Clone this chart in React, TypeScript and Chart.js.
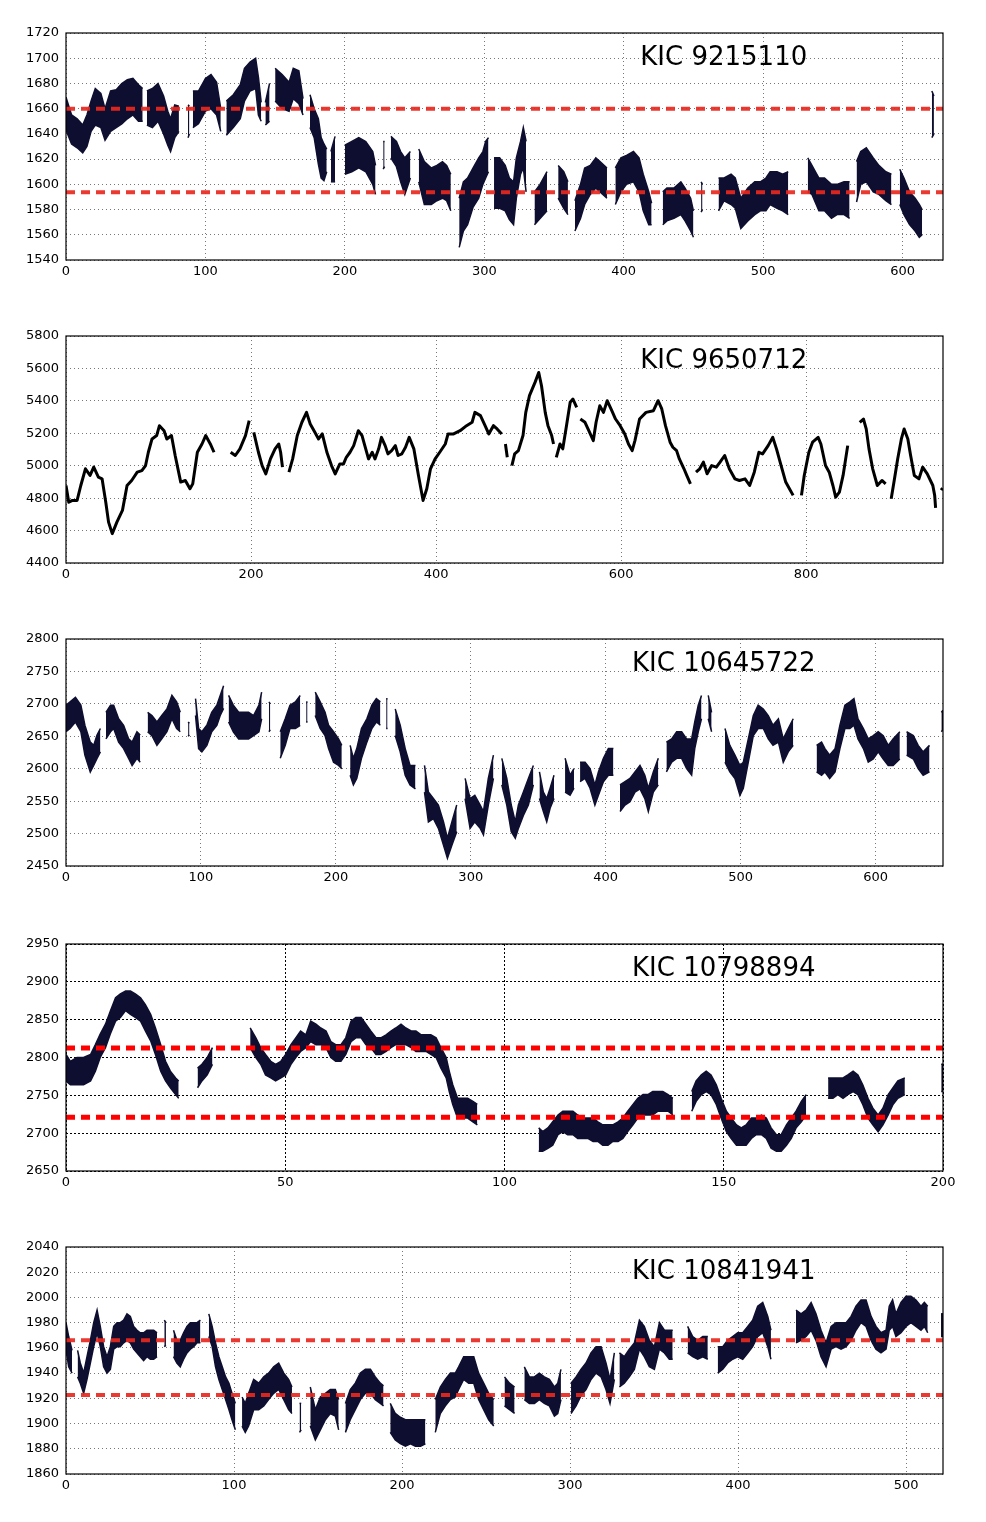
import React, { useEffect, useRef } from 'react';
import { Chart, registerables } from 'chart.js';

Chart.register(...registerables);

// ---- KIC 9215110 (band: lower / upper edge of the scatter) ----
const P1_X = [
  0, 4, 8, 12, 15, 18, 21, 25, 28, 32,
  36, 40, 44, 48, 52, 55, 56, 58, 62, 66,
  70, 73, 75, 78, 81, 84, 87.5, 88.5, 89, 91,
  95, 100, 104, 108, 111, 113, 115, 120, 125, 128,
  132, 136, 138, 140, 141, 143, 146, 148, 150, 155,
  160, 163, 167, 170, 172, 175, 178, 181, 183, 185,
  187, 189, 190, 193, 195, 200, 205, 210, 215, 220,
  222, 225, 227.5, 228.5, 230, 233, 237, 240, 243, 247,
  250, 253, 257, 262, 266, 270, 273, 276, 279, 282,
  285, 288, 292, 296, 299, 301, 303, 305, 307, 311,
  315, 318, 321, 323, 326, 328, 330, 332, 336, 340,
  345, 348, 353, 357, 360, 362, 365, 369, 372, 376,
  380, 383, 388, 391, 394, 398, 402, 407, 411, 414,
  418, 420, 424, 428, 431, 436, 441, 444, 448, 450,
  453, 455.5, 456.5, 458, 468, 472, 477, 480, 484, 489,
  494, 498, 502, 505, 510, 514, 518, 522, 532, 535,
  540, 544, 549, 553, 558, 562, 564, 567, 570, 574,
  579, 583, 588, 592, 595, 598, 601, 605, 609, 612,
  614, 617, 621, 622.5,
];
const P1_LO = [
  1643, 1632, 1629, 1625, 1630, 1642, 1647, 1645, 1635, 1642,
  1645, 1648, 1652, 1655, 1650, 1650, null, 1647, 1645, 1650,
  1640, 1631, 1626, 1637, 1642, null, 1637, 1640, null, 1645,
  1648, 1658, 1660, 1655, 1642, null, 1639, 1645, 1652, 1666,
  1674, 1676, 1655, 1650, null, 1647, 1650, null, 1666, 1660,
  1658, 1668, 1664, 1655, null, 1645, 1637, 1616, 1605, 1603,
  1610, null, 1602, 1602, null, 1608, 1610, 1613, 1610, 1600,
  1592, null, 1612, 1614, null, 1621, 1614, 1602, 1592, 1605,
  null, 1602, 1584, 1584, 1587, 1589, 1587, 1579, null, 1550,
  1563, 1568, 1582, 1589, 1600, 1605, 1610, null, 1581, 1581,
  1579, 1572, 1568, 1589, 1608, 1613, 1594, null, 1568, 1573,
  1579, null, 1589, 1581, 1576, null, 1563, 1573, 1584, 1592,
  1597, 1594, 1589, null, 1584, 1594, 1600, 1602, 1594, 1579,
  1568, 1568, null, 1568, 1571, 1573, 1576, 1571, 1563, 1558,
  null, 1578, 1580, null, 1579, 1587, 1584, 1581, 1565, 1571,
  1576, 1579, 1579, 1584, 1581, 1579, 1576, null, 1594, 1592,
  1579, 1579, 1573, 1576, 1576, 1573, null, 1586, 1600, 1602,
  1594, 1592, 1587, 1584, null, 1584, 1576, 1568, 1563, 1558,
  1560, null, 1637, 1640,
];
const P1_HI = [
  1669, 1655, 1652, 1647, 1655, 1666, 1676, 1672, 1660, 1674,
  1675, 1680, 1683, 1684, 1679, 1676, null, 1674, 1676, 1680,
  1670, 1658, 1652, 1663, 1662, null, 1663, 1662, null, 1674,
  1674, 1684, 1687, 1681, 1660, null, 1666, 1671, 1679, 1692,
  1697, 1700, 1685, 1665, null, 1665, 1680, null, 1692, 1687,
  1681, 1692, 1690, 1668, null, 1671, 1660, 1652, 1637, 1632,
  1628, null, 1626, 1638, null, 1631, 1634, 1637, 1634, 1626,
  1615, null, 1634, 1634, null, 1638, 1634, 1626, 1621, 1626,
  null, 1628, 1618, 1613, 1615, 1618, 1615, 1608, null, 1589,
  1602, 1605, 1613, 1621, 1626, 1634, 1637, null, 1621, 1621,
  1615, 1605, 1602, 1621, 1634, 1645, 1634, null, 1594, 1600,
  1610, null, 1615, 1610, 1602, null, 1587, 1600, 1613, 1615,
  1621, 1618, 1613, null, 1613, 1621, 1623, 1626, 1621, 1608,
  1594, 1585, null, 1594, 1597, 1597, 1602, 1597, 1589, 1579,
  null, 1602, 1600, null, 1605, 1605, 1608, 1605, 1589, 1597,
  1602, 1602, 1605, 1610, 1610, 1608, 1610, null, 1621, 1615,
  1605, 1605, 1600, 1600, 1602, 1602, null, 1618, 1626, 1629,
  1621, 1615, 1610, 1608, null, 1612, 1605, 1594, 1589, 1584,
  1580, null, 1674, 1670,
];
const P1_LEVELS = [1660, 1593.7];

// ---- KIC 9650712 (single trace) ----
const P2_X = [
  0, 3, 7, 12, 16, 21, 26, 30, 35, 39,
  43, 46, 50, 55, 61, 66, 71, 77, 82, 86,
  89, 93, 98, 101, 106, 109, 114, 118, 124, 129,
  134, 137, 142, 147, 151, 156, 160, 168, 178, 183,
  188, 194, 198, 200, 203, 208, 212, 216, 221, 226,
  230, 232, 234, 237, 241, 245, 250, 255, 260, 264,
  269, 273, 277, 282, 287, 291, 296, 300, 303, 307,
  311, 316, 320, 323, 327, 331, 334, 338, 341, 345,
  348, 352, 356, 359, 363, 367, 371, 376, 381, 386,
  390, 394, 399, 404, 410, 413, 419, 426, 433, 439,
  442, 448, 453, 457, 462, 466, 471, 473, 475, 477,
  479, 482, 485, 489, 494, 497, 501, 507, 511, 514,
  518, 521, 525, 527, 528, 530, 534, 537, 541, 545,
  548, 552, 554, 556, 561, 566, 570, 573, 577, 581,
  585, 590, 594, 599, 604, 608, 612, 615, 620, 627,
  635, 640, 644, 648, 653, 656, 660, 663, 668, 671,
  675, 678, 681, 685, 689, 693, 698, 703, 707, 712,
  717, 723, 728, 734, 739, 744, 749, 753, 759, 764,
  768, 773, 778, 782, 786, 790, 795, 798, 803, 807,
  813, 816, 821, 825, 829, 832, 836, 840, 845, 850,
  858, 862, 865, 868, 872, 877, 882, 886, 889, 892,
  895, 899, 903, 906, 910, 913, 917, 922, 926, 931,
  937, 939, 940, 942, 946, 947.5,
];
const P2_Y = [
  4878, 4775, 4786, 4786, 4878, 4981, 4940, 4991, 4929, 4919,
  4775, 4652, 4581, 4652, 4724, 4878, 4909, 4960, 4970, 5001,
  5083, 5165, 5186, 5247, 5216, 5165, 5186, 5063, 4899, 4909,
  4858, 4888, 5083, 5134, 5186, 5134, 5083, null, 5083, 5063,
  5104, 5186, 5278, null, 5206, 5083, 5001, 4950, 5042, 5104,
  5134, 5083, 4991, null, 4960, 5042, 5186, 5268, 5329, 5257,
  5206, 5165, 5196, 5083, 5001, 4950, 5011, 5011, 5052, 5083,
  5124, 5216, 5186, 5124, 5042, 5083, 5042, 5104, 5175, 5124,
  5073, 5093, 5124, 5063, 5073, 5114, 5175, 5104, 4940, 4786,
  4858, 4981, 5042, 5083, 5134, 5196, 5196, 5216, 5247, 5268,
  5329, 5309, 5247, 5196, 5247, 5227, 5196, null, 5134, 5052,
  null, 5001, 5073, 5093, 5186, 5329, 5432, 5514, 5575, 5493,
  5329, 5247, 5186, 5134, null, 5052, 5134, 5104, 5247, 5391,
  5411, 5360, null, 5288, 5268, 5206, 5155, 5268, 5370, 5329,
  5401, 5339, 5288, 5247, 5196, 5134, 5093, 5155, 5288, 5329,
  5339, 5401, 5350, 5247, 5145, 5114, 5093, 5042, 4981, 4940,
  4888, null, 4960, 4981, 5022, 4950, 5001, 4991, 5022, 5063,
  4981, 4919, 4909, 4919, 4878, 4960, 5083, 5073, 5124, 5175,
  5104, 5001, 4899, 4858, 4817, null, 4817, 4940, 5083, 5145,
  5175, 5134, 5001, 4960, 4878, 4806, 4837, 4940, 5124, null,
  5268, 5288, 5227, 5104, 4981, 4878, 4909, 4888, null, 4796,
  4899, 5042, 5165, 5227, 5165, 5063, 4940, 4919, 4991, 4950,
  4878, 4817, 4740, null, 4850, 4862,
];

// ---- KIC 10645722 ----
const P3_X = [
  0, 3, 7, 11, 14, 18, 20.5, 23, 25.5, 27,
  29.6, 33, 35.3, 39, 42.7, 46.4, 49, 52.6, 55, 57,
  60.5, 63.7, 67.4, 71, 74.8, 78.5, 82, 84.7, 87, 90.5,
  91.5, 93, 96, 98.3, 100.7, 104.4, 108, 111.8, 114.3, 116.8,
  118.5, 120.5, 124, 128, 131.6, 135.3, 139, 143, 145, 147,
  150.4, 151.4, 153, 158.8, 162.5, 166, 170, 173.6, 176, 178,
  179, 180, 184.7, 188.4, 192, 194.6, 198.3, 202, 204.4, 207,
  210.6, 213, 215.5, 219, 223, 226.7, 230, 233, 235, 237.3,
  238.3, 240, 244, 247.7, 251.4, 255, 259, 262, 265.7, 268.6,
  272.3, 276, 279.8, 282.7, 286, 289.6, 292, 295.8, 299.5, 303,
  307, 309.4, 313, 316.8, 320, 323, 326.7, 330, 333, 335.3,
  339, 342.7, 346.4, 348.5, 350.9, 353.8, 356.3, 358.8, 361.7, 365,
  369.9, 373.6, 376.5, 378.5, 381, 384.7, 388.4, 392, 394.6, 398.3,
  402, 405.7, 408, 410.6, 414.3, 418, 421.7, 425.4, 429, 431.6,
  435.3, 439, 442, 445, 448.9, 452.6, 456.3, 460, 463.7, 466,
  468.6, 471, 473.5, 476, 478.5, 482, 488.4, 492, 495.8, 499.5,
  502, 505.7, 509.4, 513, 516.8, 520.5, 524, 528, 531.6, 535.3,
  539, 545, 556.3, 560, 562.5, 566, 570, 573.6, 577.3, 581,
  584, 587, 591, 594.6, 598.3, 602, 605.7, 609.4, 613, 618,
  620.5, 623, 628, 631.6, 635.3, 640, 644, 648.8, 650,
];
const P3_LO = [
  2657, 2662, 2672, 2657, 2621, 2595, 2605, 2616, 2626, null,
  2646, 2657, 2662, 2641, 2631, 2616, 2605, 2616, 2610, null,
  2657, 2651, 2636, 2646, 2657, 2677, 2662, 2657, null, 2650,
  2652, null, 2682, 2631, 2626, 2636, 2657, 2667, 2682, 2693,
  null, 2672, 2657, 2646, 2646, 2646, 2651, 2657, 2677, null,
  2657, 2660, null, 2616, 2636, 2662, 2662, 2667, null, 2672,
  2672, null, 2682, 2662, 2651, 2631, 2610, 2605, 2600, null,
  2590, 2575, 2585, 2616, 2641, 2662, 2672, 2667, null, 2662,
  2662, null, 2651, 2626, 2590, 2575, 2569, null, 2564, 2518,
  2523, 2508, 2482, 2462, 2482, 2503, null, 2554, 2508, 2518,
  2508, 2498, 2544, 2585, null, 2575, 2544, 2503, 2493, 2508,
  2528, 2544, 2575, null, 2554, 2534, 2518, 2539, 2554, null,
  2564, 2559, 2570, null, 2580, 2585, 2570, 2544, 2559, 2580,
  2590, 2590, null, 2534, 2544, 2549, 2564, 2569, 2554, 2534,
  2564, 2575, null, 2595, 2610, 2616, 2616, 2600, 2590, 2631,
  2657, 2677, null, 2677, 2657, null, 2610, 2595, 2585, 2559,
  2570, 2610, 2651, 2662, 2662, 2646, 2636, 2641, 2610, 2626,
  2636, null, 2595, 2590, 2595, 2585, 2595, 2631, 2662, 2662,
  2667, 2646, 2631, 2610, 2615, 2626, 2615, 2605, 2605, 2615,
  null, 2621, 2615, 2600, 2590, 2595, null, 2657, 2660,
];
const P3_HI = [
  2698, 2703, 2710, 2698, 2667, 2641, 2636, 2652, 2662, null,
  2687, 2698, 2698, 2677, 2667, 2646, 2641, 2657, 2652, null,
  2687, 2682, 2672, 2682, 2692, 2713, 2703, 2687, null, 2672,
  2670, null, 2708, 2662, 2657, 2667, 2687, 2698, 2713, 2728,
  null, 2713, 2698, 2687, 2687, 2687, 2682, 2698, 2718, null,
  2703, 2700, null, 2657, 2677, 2698, 2703, 2713, null, 2703,
  2703, null, 2718, 2703, 2687, 2667, 2657, 2646, 2636, null,
  2636, 2616, 2631, 2662, 2677, 2698, 2708, 2703, null, 2708,
  2708, null, 2692, 2667, 2631, 2605, 2605, null, 2605, 2564,
  2554, 2544, 2518, 2493, 2518, 2544, null, 2585, 2554, 2559,
  2544, 2534, 2585, 2621, null, 2616, 2585, 2544, 2518, 2544,
  2564, 2585, 2605, null, 2595, 2564, 2554, 2570, 2590, null,
  2616, 2590, 2600, null, 2610, 2610, 2600, 2575, 2595, 2616,
  2631, 2631, null, 2575, 2580, 2585, 2595, 2605, 2590, 2570,
  2595, 2616, null, 2641, 2646, 2657, 2657, 2646, 2646, 2672,
  2698, 2713, null, 2713, 2687, null, 2662, 2636, 2621, 2605,
  2610, 2646, 2682, 2698, 2692, 2682, 2667, 2677, 2646, 2662,
  2677, null, 2636, 2641, 2631, 2621, 2631, 2667, 2698, 2703,
  2708, 2677, 2662, 2646, 2651, 2657, 2651, 2636, 2646, 2657,
  null, 2657, 2651, 2636, 2626, 2636, null, 2687, 2690,
];

// ---- KIC 10798894 ----
const P4_X = [
  0, 1, 2.5, 4, 5.6, 6.7, 7.8, 9, 10.1, 11.3,
  12.4, 13.6, 14.7, 15.8, 17, 18.1, 19.3, 20.4, 21.6, 22.7,
  23.8, 25, 25.7, 28, 30, 31, 32.2, 33.4, 37, 42,
  43.3, 44.4, 45.5, 46.7, 47.8, 49, 50.1, 51.3, 52.4, 53.5,
  54.7, 55.8, 57, 58.1, 59.3, 60.4, 61.5, 62.7, 63.8, 65,
  66.1, 67.3, 68.4, 69.5, 70.7, 71.8, 73, 74.1, 75.2, 76.4,
  77.5, 78.7, 79.8, 81, 82.1, 83.2, 84.4, 85.5, 86.7, 87.4,
  88.2, 89.3, 90.5, 91.6, 92.8, 93.8, 100, 107.8, 108.7, 109.9,
  111, 112.2, 113.3, 114.4, 115.6, 116.7, 117.9, 119, 120.2, 121.3,
  122.4, 123.6, 124.7, 125.9, 127, 128.1, 129.3, 130.4, 131.6, 132.7,
  133.8, 135, 136.1, 137.3, 138.4, 140.5, 142.7, 143.7, 144.9, 146,
  147.1, 148.3, 149.4, 150.6, 151.7, 152.9, 154, 155.1, 156.3, 157.4,
  158.6, 159.7, 160.8, 162, 163.1, 164.3, 165.4, 166.5, 167.7, 168.8,
  171, 173.8, 174.9, 176, 177.2, 178.3, 179.5, 180.6, 181.7, 182.9,
  184, 185.2, 186.3, 187.5, 188.6, 189.7, 191.3, 195, 199.6, 200.3,
];
const P4_LO = [
  2769, 2764, 2764, 2764, 2769, 2782, 2800, 2813, 2831, 2848,
  2853, 2862, 2857, 2853, 2848, 2835, 2822, 2804, 2782, 2769,
  2760, 2751, 2746, null, 2760, 2769, 2777, 2791, null, 2813,
  2800, 2791, 2777, 2773, 2769, 2773, 2777, 2791, 2800, 2808,
  2813, 2821, 2817, 2817, 2813, 2800, 2795, 2795, 2804, 2821,
  2826, 2826, 2817, 2813, 2804, 2804, 2808, 2813, 2817, 2817,
  2817, 2813, 2808, 2808, 2808, 2804, 2800, 2786, 2773, 2755,
  2738, 2720, 2720, 2720, 2715, 2711, null, 2676, 2676, 2680,
  2684, 2698, 2702, 2698, 2698, 2693, 2693, 2693, 2689, 2689,
  2684, 2684, 2689, 2689, 2693, 2702, 2711, 2720, 2724, 2724,
  2724, 2729, 2729, 2729, 2724, null, 2729, 2742, 2751, 2755,
  2751, 2738, 2720, 2702, 2693, 2684, 2684, 2684, 2693, 2698,
  2698, 2693, 2680, 2676, 2676, 2684, 2693, 2707, 2715, 2724,
  null, 2746, 2746, 2751, 2746, 2751, 2755, 2751, 2738, 2720,
  2711, 2702, 2711, 2724, 2738, 2746, 2751, null, 2755, 2755,
];
const P4_HI = [
  2804, 2795, 2800, 2800, 2804, 2817, 2831, 2844, 2861, 2879,
  2884, 2888, 2888, 2884, 2879, 2870, 2857, 2839, 2817, 2795,
  2782, 2773, 2769, null, 2786, 2791, 2800, 2813, null, 2839,
  2826, 2813, 2804, 2795, 2791, 2795, 2804, 2817, 2826, 2835,
  2830, 2848, 2844, 2839, 2835, 2821, 2817, 2817, 2826, 2848,
  2853, 2853, 2844, 2835, 2826, 2826, 2830, 2835, 2839, 2844,
  2839, 2835, 2835, 2830, 2830, 2830, 2826, 2813, 2800, 2782,
  2764, 2746, 2746, 2746, 2742, 2738, null, 2707, 2702, 2707,
  2715, 2724, 2729, 2729, 2729, 2724, 2720, 2720, 2720, 2715,
  2711, 2711, 2711, 2715, 2720, 2729, 2738, 2746, 2751, 2751,
  2755, 2755, 2755, 2751, 2746, null, 2755, 2769, 2777, 2782,
  2777, 2764, 2746, 2729, 2720, 2711, 2707, 2711, 2720, 2720,
  2724, 2720, 2707, 2698, 2698, 2711, 2720, 2729, 2742, 2751,
  null, 2773, 2773, 2773, 2773, 2777, 2782, 2777, 2764, 2746,
  2733, 2724, 2733, 2751, 2760, 2769, 2773, null, 2791, 2791,
];
const P4_LEVELS = [2812.5, 2721];

// ---- KIC 10841941 ----
const P5_X = [
  0, 1.6, 3.6, 5, 6.9, 8.5, 10.5, 12.5, 14.5, 16.5,
  18.5, 20.4, 22.4, 24.4, 26.4, 28.4, 30.4, 32.3, 34.3, 36.3,
  38.3, 40.3, 42.3, 44.2, 46.2, 48.2, 50.2, 52.2, 54.2, 56.5,
  58.5, 59.5, 61.5, 64, 66, 68, 70, 72, 74, 76,
  78, 80, 82.5, 85, 87, 89, 91, 93, 95, 97,
  98.8, 100.8, 103, 104.8, 106.7, 108.7, 111.7, 114.7, 117.7, 120.6,
  123.6, 126.6, 129.6, 132.5, 134.5, 137, 139, 140, 142, 145.4,
  148.4, 151.4, 154.4, 157.3, 160.3, 162.3, 164, 166.3, 169.2, 172.2,
  175.2, 178.2, 181.2, 184.1, 187.1, 189, 191, 193, 196, 199,
  202, 205, 208, 211, 213.9, 217, 219.8, 222.8, 225.8, 228.8,
  231.7, 233.7, 236.7, 239.7, 242.7, 245.6, 248.6, 251.6, 254.6, 258,
  261, 264, 267, 270, 272.8, 275.8, 278.8, 281.7, 284.7, 287.7,
  290.7, 292.7, 294.6, 297.5, 300.6, 303.6, 306.5, 309.5, 312.5, 315.5,
  318.5, 321.4, 323.8, 326.4, 328, 329.4, 332.3, 335.3, 338.3, 341.3,
  344.2, 347.2, 350.2, 353.2, 356.2, 359.1, 361.1, 365, 370, 373,
  376, 379, 382, 385, 387.9, 390.9, 393.8, 396.8, 399.8, 402.8,
  405.8, 408.7, 411.7, 414.7, 417.7, 419.6, 425, 434.5, 437.5, 440.5,
  443.5, 446.4, 449.4, 452.4, 455.4, 458.3, 461.3, 464.3, 467.3, 470.2,
  473.2, 476.2, 479.2, 482.1, 485.1, 488.1, 490, 492, 494, 497,
  500, 502.9, 505.9, 508.9, 510.9, 512.9, 517, 520.8, 522,
];
const P5_LO = [
  1959, 1945, 1940, null, 1937, 1932, 1924, 1935, 1948, 1961,
  1972, 1961, 1945, 1940, 1943, 1959, 1961, 1961, 1964, 1966,
  1964, 1959, 1956, 1953, 1950, 1953, 1951, 1951, 1953, null,
  1961, 1962, null, 1953, 1948, 1945, 1951, 1956, 1959, 1961,
  1964, 1964, null, 1969, 1961, 1945, 1935, 1927, 1919, 1911,
  1903, 1895, null, 1898, 1893, 1898, 1911, 1911, 1914, 1919,
  1924, 1927, 1919, 1911, 1908, null, 1893, 1895, null, 1898,
  1887, 1895, 1903, 1908, 1906, 1895, null, 1893, 1903, 1911,
  1919, 1924, 1924, 1919, 1916, 1914, null, 1893, 1887, 1884,
  1882, 1884, 1882, 1882, 1884, null, 1893, 1908, 1914, 1919,
  1921, 1927, 1935, 1932, 1932, 1919, 1911, 1903, 1898, null,
  1914, 1911, 1908, null, 1919, 1916, 1916, 1919, 1916, 1914,
  1906, 1908, 1919, null, 1908, 1914, 1922, 1927, 1935, 1940,
  1937, 1927, 1916, 1935, null, 1929, 1932, 1937, 1943, 1959,
  1953, 1945, 1943, 1959, 1956, 1951, 1951, null, 1956, 1953,
  1951, 1953, 1951, null, 1940, 1943, 1948, 1951, 1953, 1951,
  1956, 1961, 1969, 1972, 1961, 1951, null, 1964, 1966, 1969,
  1974, 1966, 1953, 1945, 1959, 1961, 1959, 1961, 1966, 1974,
  1980, 1977, 1966, 1959, 1956, 1959, 1974, 1977, 1969, 1972,
  1977, 1980, 1977, 1974, 1977, 1972, null, 1969, 1969,
];
const P5_HI = [
  1980, 1969, 1958, null, 1958, 1948, 1940, 1953, 1966, 1980,
  1990, 1977, 1961, 1953, 1961, 1977, 1980, 1980, 1982, 1987,
  1985, 1977, 1974, 1972, 1972, 1974, 1974, 1974, 1972, null,
  1982, 1980, null, 1974, 1966, 1966, 1972, 1977, 1980, 1980,
  1980, 1982, null, 1987, 1977, 1964, 1953, 1945, 1937, 1932,
  1924, 1916, null, 1921, 1916, 1924, 1935, 1932, 1937, 1940,
  1945, 1948, 1940, 1935, 1929, null, 1916, 1916, null, 1929,
  1911, 1921, 1924, 1927, 1927, 1919, null, 1916, 1927, 1932,
  1940, 1943, 1943, 1937, 1932, 1930, null, 1916, 1908, 1905,
  1903, 1903, 1903, 1903, 1903, null, 1919, 1929, 1935, 1940,
  1940, 1945, 1953, 1953, 1953, 1940, 1932, 1924, 1919, null,
  1937, 1932, 1929, null, 1945, 1937, 1937, 1940, 1937, 1935,
  1929, 1932, 1943, null, 1932, 1937, 1943, 1948, 1956, 1961,
  1961, 1948, 1935, 1956, null, 1956, 1953, 1959, 1964, 1982,
  1977, 1966, 1961, 1980, 1974, 1974, 1974, null, 1977, 1969,
  1966, 1969, 1969, null, 1961, 1961, 1966, 1969, 1972, 1972,
  1977, 1982, 1993, 1996, 1985, 1974, null, 1990, 1987, 1990,
  1996, 1987, 1974, 1964, 1977, 1980, 1980, 1980, 1985, 1993,
  1998, 1998, 1985, 1977, 1972, 1974, 1993, 1998, 1987, 1996,
  2001, 2001, 1998, 1993, 1996, 1993, null, 1987, 1987,
];
const P5_LEVELS = [1966, 1922.6];

const BAND = '#0e0e30';
const FONT = 'DejaVu Sans';

type PanelCfg = {
  title: string;
  top: number;
  x: number[];
  lo?: (number | null)[];
  hi?: (number | null)[];
  y?: (number | null)[];
  levels: number[];
  levelColor: string;
  levelWidth: number;
  xMax: number;
  xStep: number;
  yMin: number;
  yMax: number;
  yStep: number;
  gridColor: string;
  gridDash: number[];
};

const PANELS: PanelCfg[] = [
  { title: 'KIC 9215110', top: 33, x: P1_X, lo: P1_LO, hi: P1_HI, levels: P1_LEVELS, levelColor: 'rgba(232,40,30,0.92)', levelWidth: 4, xMax: 629, xStep: 100, yMin: 1540, yMax: 1720, yStep: 20, gridColor: '#777', gridDash: [1, 3] },
  { title: 'KIC 9650712', top: 336, x: P2_X, y: P2_Y, levels: [], levelColor: '#f00', levelWidth: 4, xMax: 948, xStep: 200, yMin: 4400, yMax: 5800, yStep: 200, gridColor: '#777', gridDash: [1, 3] },
  { title: 'KIC 10645722', top: 639, x: P3_X, lo: P3_LO, hi: P3_HI, levels: [], levelColor: '#f00', levelWidth: 4, xMax: 650, xStep: 100, yMin: 2450, yMax: 2800, yStep: 50, gridColor: '#777', gridDash: [1, 3] },
  { title: 'KIC 10798894', top: 944, x: P4_X, lo: P4_LO, hi: P4_HI, levels: P4_LEVELS, levelColor: '#ff0000', levelWidth: 5, xMax: 200, xStep: 50, yMin: 2650, yMax: 2950, yStep: 50, gridColor: '#000', gridDash: [2, 2] },
  { title: 'KIC 10841941', top: 1247, x: P5_X, lo: P5_LO, hi: P5_HI, levels: P5_LEVELS, levelColor: 'rgba(232,40,30,0.92)', levelWidth: 4, xMax: 522, xStep: 100, yMin: 1860, yMax: 2040, yStep: 20, gridColor: '#777', gridDash: [1, 3] },
];

const PAD_TOP = 15;
const AXIS_H = 30;
const PLOT_H = 227;

// contiguous runs of indices where both band edges are known
function runs(lo: (number | null)[], hi: (number | null)[]): number[][] {
  const out: number[][] = [];
  let cur: number[] = [];
  lo.forEach((v, i) => {
    if (v == null || hi[i] == null) {
      if (cur.length) out.push(cur);
      cur = [];
    } else {
      cur.push(i);
    }
  });
  if (cur.length) out.push(cur);
  return out;
}

const Panel: React.FC<{ cfg: PanelCfg }> = ({ cfg }) => {
  const canvasRef = useRef<HTMLCanvasElement>(null);

  useEffect(() => {
    if (!canvasRef.current) return;
    const ctx = canvasRef.current.getContext('2d');
    if (!ctx) return;

    const datasets: any[] = [];
    if (cfg.lo && cfg.hi) {
      runs(cfg.lo, cfg.hi).forEach((idx) => {
        datasets.push({
          data: idx.map((i) => ({ x: cfg.x[i], y: cfg.lo![i] })),
          borderColor: BAND, backgroundColor: BAND, borderWidth: 1.5,
          pointRadius: 0, fill: false, order: 2,
        });
        datasets.push({
          data: idx.map((i) => ({ x: cfg.x[i], y: cfg.hi![i] })),
          borderColor: BAND, backgroundColor: BAND, borderWidth: 1.5,
          pointRadius: 0, fill: '-1', order: 2,
        });
      });
    } else if (cfg.y) {
      datasets.push({
        data: cfg.x.map((x, i) => ({ x, y: cfg.y![i] })),
        borderColor: '#000', borderWidth: 3, pointRadius: 0,
        fill: false, order: 2, borderJoinStyle: 'round',
      });
    }
    cfg.levels.forEach((v) => {
      datasets.push({
        data: [{ x: 0, y: v }, { x: cfg.xMax, y: v }],
        borderColor: cfg.levelColor, borderWidth: cfg.levelWidth, borderDash: [9, 6],
        pointRadius: 0, fill: false, order: 0,
      });
    });

    const tickFont = { family: FONT, size: 13 };

    const chart = new Chart(ctx, {
      type: 'line',
      data: { datasets },
      options: {
        animation: false,
        responsive: false,
        devicePixelRatio: 1,
        spanGaps: false,
        layout: { padding: { top: PAD_TOP, right: 43, left: 0, bottom: 0 } },
        plugins: { legend: { display: false }, tooltip: { enabled: false } },
        elements: { line: { tension: 0 } },
        scales: {
          x: {
            type: 'linear',
            min: 0,
            max: cfg.xMax,
            ticks: {
              stepSize: cfg.xStep, includeBounds: false, color: '#000',
              font: tickFont, padding: 4, maxRotation: 0, autoSkip: false,
              callback: (v: any) => String(v),
            },
            grid: { color: cfg.gridColor, lineWidth: 1, drawTicks: false },
            border: { display: false, dash: cfg.gridDash },
            afterFit: (s: any) => { s.height = AXIS_H; },
          },
          y: {
            type: 'linear',
            min: cfg.yMin,
            max: cfg.yMax,
            ticks: {
              stepSize: cfg.yStep, color: '#000', font: tickFont,
              padding: 7, autoSkip: false,
              callback: (v: any) => String(v),
            },
            grid: { color: cfg.gridColor, lineWidth: 1, drawTicks: false },
            border: { display: false, dash: cfg.gridDash },
            afterFit: (s: any) => { s.width = 66; },
          },
        },
      },
      plugins: [
        {
          id: 'frameAndTitle',
          afterDraw: (c: any) => {
            const a = c.chartArea;
            const g = c.ctx;
            g.save();
            g.strokeStyle = '#000';
            g.lineWidth = 1.2;
            g.strokeRect(a.left, a.top, a.right - a.left, a.bottom - a.top);
            g.fillStyle = '#000';
            g.font = `26px "${FONT}"`;
            g.textAlign = 'center';
            g.textBaseline = 'middle';
            g.fillText(cfg.title, a.left + 0.75 * (a.right - a.left), a.top + 0.112 * (a.bottom - a.top));
            g.restore();
          },
        },
      ],
    } as any);

    return () => {
      chart.destroy();
    };
  }, [cfg]);

  return (
    <canvas
      ref={canvasRef}
      width={986}
      height={PAD_TOP + PLOT_H + AXIS_H}
      style={{ position: 'absolute', left: 0, top: cfg.top - PAD_TOP }}
    />
  );
};

export default function App() {
  return (
    <div style={{ position: 'absolute', left: 0, top: 0, width: 986, height: 1522, background: '#fff' }}>
      {PANELS.map((p) => (
        <Panel key={p.title} cfg={p} />
      ))}
    </div>
  );
}
